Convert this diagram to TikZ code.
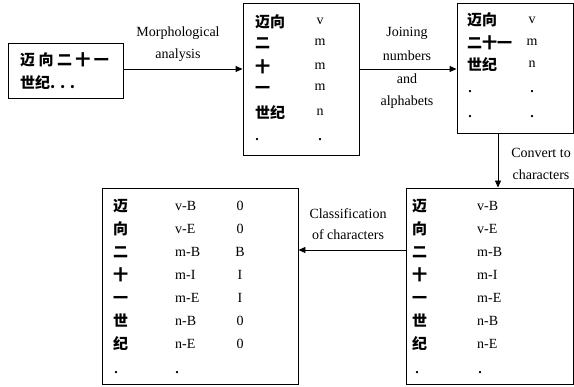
\documentclass[tikz,border=0pt]{standalone}
\usepackage{fontspec}
\setmainfont{Liberation Serif}
\newfontfamily\cjk{Noto Sans CJK SC}
\usetikzlibrary{arrows.meta}
\begin{document}
\begin{tikzpicture}[x=1pt,y=-1pt,
  box/.style={draw, line width=0.9pt, inner sep=0pt, rectangle},
  arr/.style={line width=0.9pt, -{Triangle[length=7pt,width=6pt]}},
  lbl/.style={font=\fontsize{14}{16}\selectfont, inner sep=0pt, anchor=base},
  zh/.style={font=\cjk\bfseries\fontsize{15}{17}\selectfont, inner sep=0pt, anchor=base west},
  lt/.style={font=\fontsize{14}{16}\selectfont, inner sep=0pt, anchor=base},
  ltw/.style={font=\fontsize{14}{16}\selectfont, inner sep=0pt, anchor=base west},
  dot/.style={font=\bfseries\fontsize{14}{16}\selectfont, inner sep=0pt, anchor=base},
]
\useasboundingbox (0,0) rectangle (574,387);
% boxes
\node[box, minimum width=115pt, minimum height=55pt] (b1) at (65.5,70.5) {};
\node[box, minimum width=116pt, minimum height=152pt] (b2) at (301,79) {};
\node[box, minimum width=116pt, minimum height=130pt] (b3) at (515,68) {};
\node[box, minimum width=167pt, minimum height=196pt] (b4) at (489.5,286) {};
\node[box, minimum width=196pt, minimum height=196pt] (b5) at (200,286) {};
% box 1
\node[zh] (t11) at (20,65.5) {迈 向 二 十 一};
\node[zh] (t12) at (20,88.5) {世纪\textbf{. . .}};
% box 2
\node[zh] (t21) at (255,27.5) {迈向};
\node[zh] (t22) at (255,48.5) {二};
\node[zh] (t23) at (255,72.5) {十};
\node[zh] (t24) at (255,93.5) {一};
\node[zh] (t25) at (255,118.5) {世纪};
\node[dot] (t26) at (257,141) {.};
\node[lt] (u21) at (320,25) {v};
\node[lt] (u22) at (320,46) {m};
\node[lt] (u23) at (320,70) {m};
\node[lt] (u24) at (320,91) {m};
\node[lt] (u25) at (320,116) {n};
\node[dot] (u26) at (320,141) {.};
% box 3
\node[zh] (t31) at (467,25.5) {迈向};
\node[zh] (t32) at (467,48.5) {二十一};
\node[zh] (t33) at (467,70.5) {世纪};
\node[dot] (t34) at (470,93) {.};
\node[dot] (t35) at (470,118) {.};
\node[lt] (u31) at (532,23.5) {v};
\node[lt] (u32) at (532,46) {m};
\node[lt] (u33) at (532,68) {n};
\node[dot] (u34) at (532,93) {.};
\node[dot] (u35) at (532,118) {.};
% box 4
\node[zh] (t41) at (412,211.5) {迈};
\node[zh] (t42) at (412,234.5) {向};
\node[zh] (t43) at (412,257.5) {二};
\node[zh] (t44) at (412,280.5) {十};
\node[zh] (t45) at (412,303.5) {一};
\node[zh] (t46) at (412,326.5) {世};
\node[zh] (t47) at (412,349.5) {纪};
\node[dot] (t48) at (417,374) {.};
\node[ltw] (u41) at (477,210.5) {v-B};
\node[ltw] (u42) at (477,233.5) {v-E};
\node[ltw] (u43) at (477,256.5) {m-B};
\node[ltw] (u44) at (477,279.5) {m-I};
\node[ltw] (u45) at (477,302.5) {m-E};
\node[ltw] (u46) at (477,325.5) {n-B};
\node[ltw] (u47) at (477,348.5) {n-E};
\node[dot] (u48) at (480,374) {.};
% box 5
\node[zh] (t51) at (113,211.5) {迈};
\node[zh] (t52) at (113,234.5) {向};
\node[zh] (t53) at (113,257.5) {二};
\node[zh] (t54) at (113,280.5) {十};
\node[zh] (t55) at (113,303.5) {一};
\node[zh] (t56) at (113,326.5) {世};
\node[zh] (t57) at (113,349.5) {纪};
\node[dot] (t58) at (116,374) {.};
\node[ltw] (u51) at (175,210.5) {v-B};
\node[ltw] (u52) at (175,233.5) {v-E};
\node[ltw] (u53) at (175,256.5) {m-B};
\node[ltw] (u54) at (175,279.5) {m-I};
\node[ltw] (u55) at (175,302.5) {m-E};
\node[ltw] (u56) at (175,325.5) {n-B};
\node[ltw] (u57) at (175,348.5) {n-E};
\node[dot] (u58) at (177,374) {.};
\node[lt] (v51) at (240,210.5) {0};
\node[lt] (v52) at (240,233.5) {0};
\node[lt] (v53) at (240,256.5) {B};
\node[lt] (v54) at (240,279.5) {I};
\node[lt] (v55) at (240,302.5) {I};
\node[lt] (v56) at (240,325.5) {0};
\node[lt] (v57) at (240,348.5) {0};
% connectors
\coordinate (a2) at (0,69);
\coordinate (a4) at (0,250);
\draw[arr] (b1.east |- a2) -- (b2.west |- a2);
\draw[arr] (b2.east |- a2) -- (b3.west |- a2);
\draw[arr] ([xshift=-17pt]b3.south) -- ([xshift=-17pt]b3.south |- b4.north);
\draw[arr] (b4.west |- a4) -- (b5.east |- a4);
% labels
\node[lbl] (l1a) at (178,37) {Morphological};
\node[lbl] (l1b) at (178,59) {analysis};
\node[lbl] (l2a) at (407,37) {Joining};
\node[lbl] (l2b) at (407,61) {numbers};
\node[lbl] (l2c) at (407,84) {and};
\node[lbl] (l2d) at (407,106) {alphabets};
\node[lbl] (l3a) at (541,158) {Convert to};
\node[lbl] (l3b) at (541,180) {characters};
\node[lbl] (l4a) at (348,219) {Classification};
\node[lbl] (l4b) at (348,240) {of characters};
\end{tikzpicture}
\end{document}
